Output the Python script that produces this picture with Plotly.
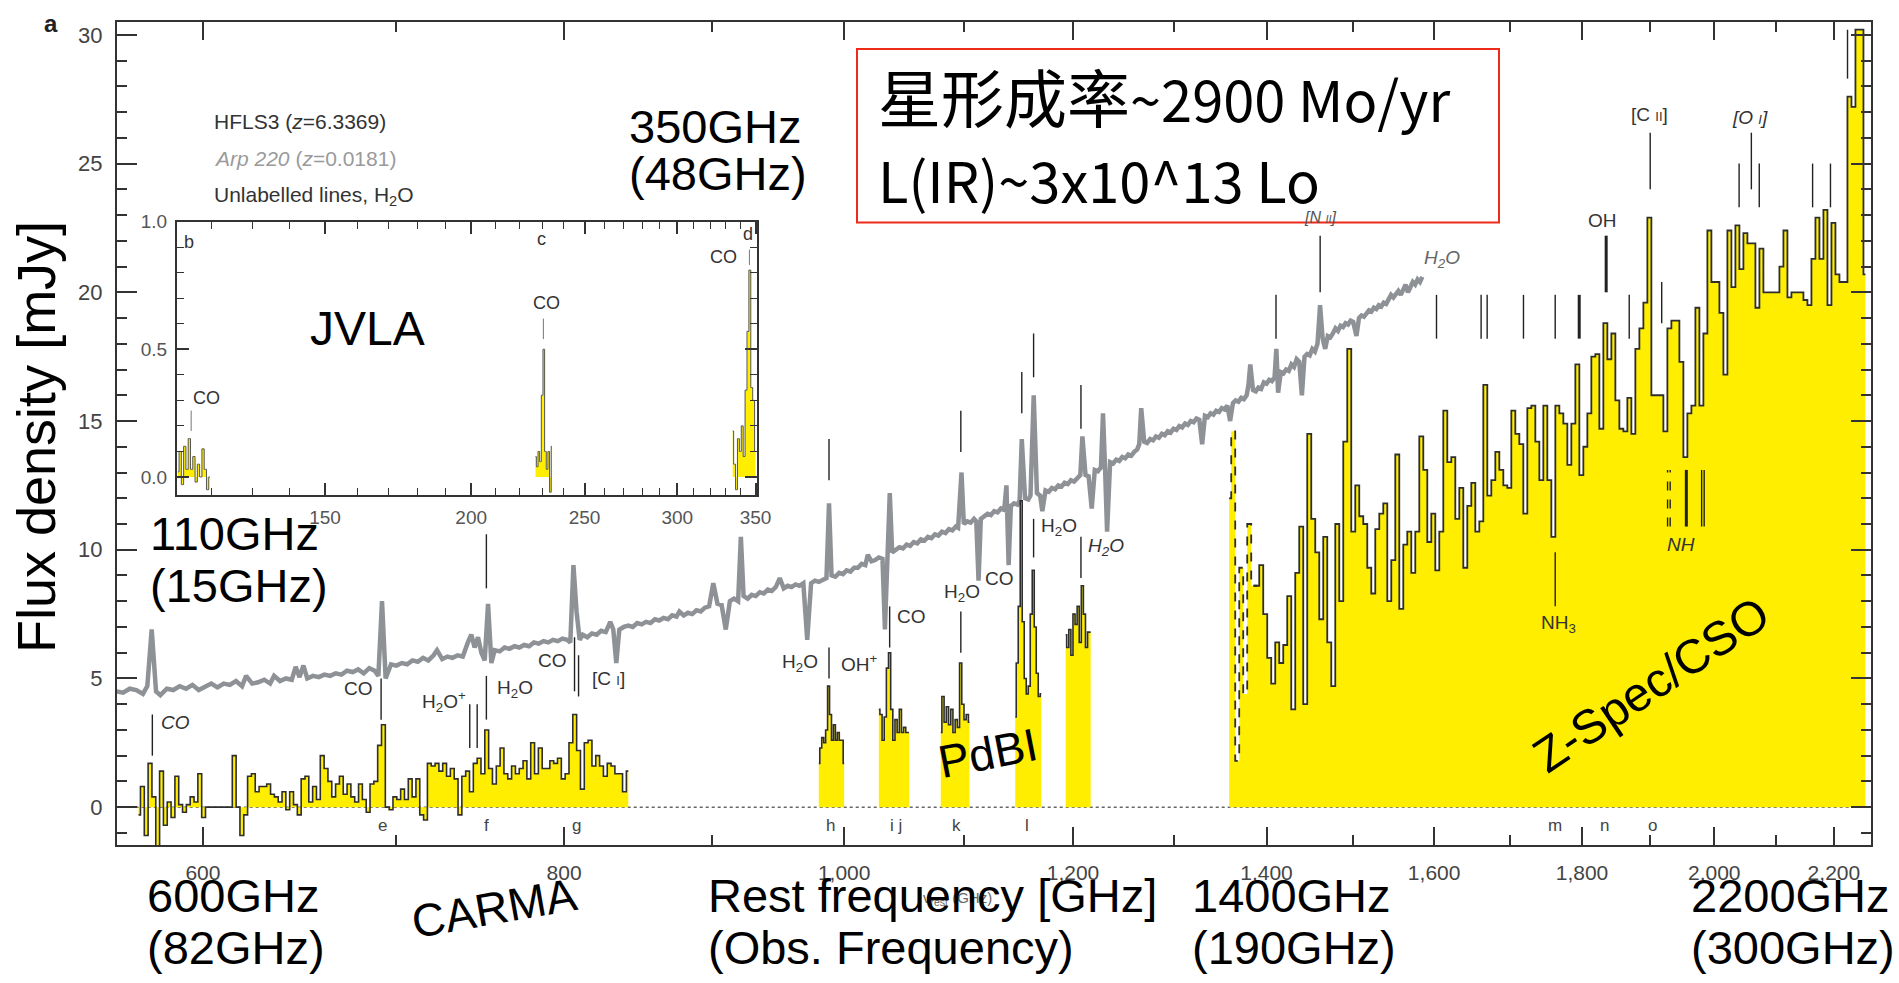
import numpy as np
import plotly.graph_objects as go

# ------------------------------------------------------------------
# HFLS3 spectrum pieces (rest frequency in GHz, flux density in mJy)
# ------------------------------------------------------------------
CARMA_BAND = (570.0, 842.0)
carma_flux = [
    -0.3, 0.8, -1.1, 1.7, 0.4, -1.5, 1.4, -0.7, 0.2, -0.4,
    1.2, 0.1, -0.2, 0.1, 0.4, 0.2, 1.3, -0.4, 0.0, 0.0,
    0.0, 0.0, 0.0, 0.0, 0.0, 2.0, 0.0, -1.1, -0.3, 1.2,
    1.3, 0.6, 0.8, 0.8, 0.9, 0.5, 0.4, 0.2, 0.6, -0.1,
    0.6, 0.1, -0.3, 1.1, 1.2, 0.2, 0.8, 0.3, 2.0, 1.5,
    1.0, 0.4, 0.9, 1.2, 0.5, 0.9, 0.4, 0.2, 0.9, 0.3,
    -0.2, 0.9, 1.0, 2.4, 3.2, 0.0, -0.1, 0.4, 0.3, 0.7,
    0.3, 1.1, 0.4, 1.1, -0.3, -0.5, 1.7, 1.6, 1.7, 1.4,
    1.7, 1.2, 1.5, 1.1, -0.3, 1.2, 1.4, 0.6, 1.7, 1.9,
    1.3, 3.0, 1.5, 0.9, 1.6, 2.3, 1.3, 1.1, 1.6, 1.3,
    1.5, 1.8, 1.1, 2.5, 1.3, 2.3, 1.5, 1.5, 1.8, 1.7,
    1.9, 1.1, 1.3, 2.5, 3.6, 2.2, 0.7, 2.5, 2.6, 1.6,
    2.0, 1.6, 1.2, 1.7, 1.6, 1.3, 1.3, 0.6, 1.4,
]

PDBI_BANDS = [(980.0, 1000.0), (1028.0, 1053.0), (1080.0, 1105.0),
              (1146.0, 1170.0), (1193.0, 1217.0)]
pdbi_flux = [
    [1.7, 2.3, 2.7, 2.5, 3.0, 4.7, 3.6, 2.6, 3.2, 2.6, 2.9, 2.6, 2.6, 1.7],
    [3.8, 3.6, 2.6, 3.5, 5.4, 6.0, 3.8, 2.6, 3.4, 2.9, 3.8, 2.9, 3.1, 2.9, 2.9],
    [2.9, 4.3, 3.3, 3.9, 3.2, 3.8, 2.9, 3.4, 3.1, 5.6, 4.0, 3.4, 3.6, 3.3],
    [3.5, 5.6, 7.8, 11.9, 7.2, 5.0, 4.4, 4.7, 7.5, 9.2, 7.0, 5.2, 4.3, 4.4],
    [6.7, 6.2, 6.9, 5.9, 7.5, 7.1, 7.8, 6.4, 8.6, 7.5, 6.2, 6.8, 6.8],
]

ZSPEC_BAND = (1359.0, 2256.0)
ZSPEC_EDGE_CHANNELS = 8          # low-frequency edge channels (drawn dashed)
zspec_flux = [
    12.0, 14.6, 1.8, 9.3, 4.4, 11.0, 8.6, 8.6, 9.4, 7.5,
    5.8, 4.8, 6.4, 5.6, 6.3, 8.2, 3.8, 9.1, 10.9, 4.0,
    14.5, 11.2, 9.9, 7.3, 10.5, 6.4, 4.7, 11.0, 8.0, 14.2,
    17.8, 10.7, 12.5, 11.3, 11.0, 9.3,
    8.3, 10.8, 11.4, 11.8, 8.0, 9.6, 13.7, 7.7, 10.2, 10.7,
    9.1, 10.7, 14.4, 13.1, 10.3, 11.4, 9.2, 10.7, 15.4, 13.4,
    13.6, 11.2, 12.4, 9.3, 11.7, 12.6, 10.7, 11.1, 16.4, 12.1,
    12.7, 13.8, 13.1, 12.5, 12.4, 15.4, 14.5, 14.1, 11.4, 15.5,
    15.6, 14.2, 12.7, 15.6, 12.7, 10.5, 15.6, 15.3, 14.9, 13.3,
    14.9, 17.2, 12.9, 14.0, 15.3, 17.5, 17.6, 14.7, 18.8, 17.4,
    18.4, 15.8, 14.7, 14.6, 15.9, 14.5, 17.8, 18.6, 19.6,
    22.9,
    16.0, 16.0, 16.0, 14.6, 18.6, 18.9, 18.9, 17.3, 13.6, 15.3,
    15.6, 19.4, 15.6, 18.4, 22.4, 20.4, 20.4, 19.2, 16.8, 22.4,
    20.2, 22.6, 20.9, 22.3, 21.9, 21.9, 19.4, 21.7, 20.0, 20.0,
    20.0, 20.0, 21.0, 22.4, 19.8, 20.0, 20.0, 20.0, 19.7, 19.5,
    21.3, 22.9, 21.3, 23.2, 19.5, 22.7, 20.7, 20.4, 20.4, 27.6,
    27.2, 30.2, 30.2, 20.7,
]

# ------------------------------------------------------------------
# Arp 220 template (scaled, grey)
# ------------------------------------------------------------------
arp_freq = [
    560, 563, 566, 569, 572, 574, 576, 578, 580, 583,
    586, 589, 592, 595, 598, 601, 604, 607, 610, 613,
    616, 619, 621, 624, 627, 630, 633, 635, 638, 641,
    644, 646, 648, 650, 652, 655, 658, 661, 664, 667,
    670, 673, 676, 679, 682, 685, 688, 690, 692, 694,
    697, 700, 703, 706, 709, 712, 715, 718, 721, 723,
    726, 729, 732, 735, 738, 741, 743, 745, 747, 749,
    751, 753, 755, 757, 760, 763, 766, 769, 772, 775,
    778, 781, 784, 787, 790, 793, 796, 799, 802, 804,
    806, 808, 810, 812, 815, 818, 821, 824, 827, 830,
    832, 834, 836, 839, 842, 845, 848, 851, 854, 857,
    860, 863, 866, 869, 872, 875, 877, 880, 883, 886,
    889, 892, 895, 898, 901, 904, 907, 910, 913, 916,
    919, 921, 923, 926, 929, 932, 935, 938, 941, 944,
    947, 950, 953, 956, 959, 962, 965, 968, 971, 974,
    977, 980, 983, 986, 988, 990, 993, 996, 999, 1002,
    1005, 1008, 1011, 1014, 1017, 1019, 1022, 1025, 1028, 1031,
    1033, 1035, 1037, 1039, 1042, 1045, 1048, 1051, 1054, 1057,
    1060, 1063, 1066, 1069, 1072, 1075, 1078, 1081, 1084, 1087,
    1090, 1093, 1095, 1098, 1100, 1103, 1106, 1109, 1111, 1113,
    1115, 1118, 1121, 1124, 1127, 1130, 1133, 1136, 1138, 1140,
    1142, 1145, 1148, 1150, 1152, 1155, 1158, 1160, 1163, 1166,
    1169, 1171, 1174, 1177, 1180, 1183, 1186, 1189, 1192, 1195,
    1198, 1201, 1204, 1207, 1209, 1212, 1215, 1218, 1221, 1224,
    1227, 1229, 1231, 1233, 1236, 1239, 1242, 1245, 1248, 1251,
    1254, 1257, 1260, 1263, 1265, 1267, 1270, 1273, 1276, 1279,
    1282, 1285, 1288, 1291, 1294, 1297, 1300, 1303, 1306, 1309,
    1312, 1315, 1318, 1321, 1324, 1327, 1330, 1333, 1336, 1339,
    1342, 1345, 1348, 1351, 1354, 1357, 1360, 1363, 1366, 1369,
    1372, 1375, 1378, 1380, 1382, 1385, 1388, 1391, 1394, 1397,
    1400, 1403, 1406, 1409, 1411, 1413, 1416, 1419, 1422, 1425,
    1428, 1431, 1434, 1437, 1440, 1443, 1446, 1449, 1452, 1455,
    1458, 1461, 1464, 1467, 1470, 1473, 1476, 1479, 1482, 1485,
    1488, 1491, 1494, 1497, 1500, 1504, 1507, 1510, 1513, 1516,
    1519, 1522, 1525, 1528, 1531, 1534, 1537, 1540, 1543, 1546,
    1549, 1552, 1555, 1558, 1561, 1564, 1567, 1570, 1573, 1576,
    1579, 1582, 1585,
]
arp_flux = [
    4.50, 4.45, 4.60, 4.55, 4.40, 4.70, 6.90, 4.50, 4.35, 4.60,
    4.55, 4.70, 4.60, 4.75, 4.55, 4.70, 4.80, 4.65, 4.80, 4.75,
    4.90, 4.70, 5.10, 4.80, 4.85, 4.95, 4.80, 5.10, 4.90, 5.00,
    4.95, 5.45, 5.05, 5.50, 5.00, 5.10, 5.05, 5.15, 5.10, 5.20,
    5.15, 5.30, 5.25, 5.35, 5.20, 5.40, 5.30, 5.10, 8.00, 5.00,
    5.55, 5.50, 5.60, 5.55, 5.70, 5.65, 5.80, 5.70, 5.90, 6.10,
    5.75, 5.85, 5.80, 5.90, 5.85, 6.40, 6.70, 6.20, 6.60, 6.00,
    5.70, 7.90, 5.60, 6.10, 6.05, 6.20, 6.15, 6.25, 6.20, 6.30,
    6.25, 6.40, 6.35, 6.45, 6.40, 6.50, 6.45, 6.55, 6.50, 6.40,
    9.40, 7.60, 6.50, 6.70, 6.60, 6.75, 6.70, 6.85, 6.80, 7.20,
    6.90, 5.60, 6.90, 7.00, 7.05, 7.00, 7.15, 7.10, 7.20, 7.15,
    7.30, 7.25, 7.35, 7.30, 7.45, 7.40, 7.60, 7.45, 7.55, 7.50,
    7.65, 7.60, 7.75, 7.80, 8.70, 7.90, 7.85, 6.90, 8.00, 8.10,
    8.00, 10.50, 8.20, 8.10, 8.25, 8.20, 8.35, 8.30, 8.45, 8.40,
    8.55, 8.90, 8.50, 8.60, 8.55, 8.65, 8.60, 8.70, 6.50, 8.70,
    8.80, 8.75, 8.85, 8.90, 11.80, 9.00, 8.95, 9.10, 9.05, 9.20,
    9.15, 9.30, 9.30, 9.45, 9.40, 9.80, 9.55, 9.60, 9.70, 9.65,
    6.90, 9.80, 12.20, 9.90, 10.00, 10.10, 10.05, 10.20, 10.15, 10.30,
    10.25, 10.40, 10.35, 10.50, 10.45, 10.60, 10.55, 10.70, 10.65, 10.80,
    10.75, 10.90, 10.85, 13.00, 11.00, 11.10, 11.05, 11.20, 11.10, 8.80,
    11.20, 11.30, 11.40, 11.35, 11.50, 11.45, 11.60, 11.55, 12.50, 9.40,
    11.70, 11.80, 11.75, 11.90, 14.30, 12.00, 11.95, 12.10, 16.00, 12.20,
    12.10, 11.50, 12.30, 12.25, 12.40, 12.35, 12.50, 12.45, 12.60, 12.55,
    12.70, 12.65, 12.80, 12.90, 14.40, 12.90, 12.85, 11.60, 13.10, 13.05,
    13.20, 15.30, 13.20, 10.70, 13.40, 13.35, 13.50, 13.45, 13.60, 13.55,
    13.70, 13.65, 13.80, 13.90, 14.10, 15.50, 14.20, 14.15, 14.30, 14.25,
    14.40, 14.35, 14.50, 14.45, 14.60, 14.55, 14.70, 14.65, 14.80, 14.75,
    14.90, 14.85, 15.00, 14.95, 15.10, 15.05, 14.10, 15.20, 15.15, 15.30,
    15.25, 15.40, 15.35, 15.50, 15.45, 15.60, 15.00, 15.70, 15.80, 15.75,
    15.90, 15.85, 16.00, 16.40, 17.20, 16.20, 16.15, 16.30, 16.25, 16.50,
    16.45, 16.60, 16.55, 16.70, 17.80, 16.10, 16.90, 16.85, 17.00, 16.95,
    17.20, 17.10, 17.40, 17.30, 16.00, 17.50, 17.60, 17.55, 17.80, 17.70,
    18.00, 19.50, 18.20, 17.80, 18.30, 18.25, 18.40, 18.60, 18.50, 18.70,
    18.65, 18.80, 18.75, 18.90, 18.85, 18.30, 19.00, 19.10, 19.05, 19.20,
    19.30, 19.25, 19.40, 19.35, 19.50, 19.45, 19.60, 19.55, 19.70, 19.90,
    19.80, 19.95, 20.05, 19.90, 20.10, 20.30, 20.00, 20.25, 20.40, 20.30,
    20.50, 20.40, 20.60,
]

# ------------------------------------------------------------------
# JVLA low-J CO (inset)
# ------------------------------------------------------------------
JVLA_BANDS = [(112.3, 119.6), (227.0, 234.5), (334.6, 350.0)]
jvla_flux = [
    [0.02, 0.10, -0.03, 0.12, 0.03, 0.15, 0.03, 0.08, -0.02, 0.05, 0.00, 0.11, 0.03, -0.05, 0.00],
    [0.08, 0.04, 0.10, 0.06, 0.32, 0.50, 0.10, 0.03, 0.10, -0.06, 0.12],
    [0.18, 0.05, -0.05, 0.15, 0.10, 0.20, 0.08, 0.34, 0.57, 0.81, 0.35, 0.30, 0.10],
]
jvla_marker_freq = [115.27, 230.54, 345.80]
jvla_marker_lo = [0.18, 0.54, 0.83]
jvla_marker_hi = [0.26, 0.62, 0.89]

# ------------------------------------------------------------------
# Line identifications (frequency, bottom, top of the tick)
# ------------------------------------------------------------------
line_freq = [576.3, 691.5, 742.1, 746.5, 752.0, 752.0, 806.7, 809.3,
             988.0, 988.0, 1036.9, 1097.4, 1097.4, 1152.0, 1162.9, 1162.9,
             1207.6, 1207.6, 1410.6, 1461.1, 1603, 1661, 1669, 1718, 1762,
             1869, 1918, 1900.5, 2040, 2060, 2073, 2163, 2194, 2224,
             1762, 1980, 1984]
line_lo = [2.0, 3.4, 2.3, 2.3, 3.4, 8.5, 4.5, 4.3,
           5.0, 12.7, 6.2, 6.0, 13.8, 15.3, 9.7, 16.7,
           8.9, 14.7, 18.2, 20.0, 18.2, 18.2, 18.2, 18.2, 18.2,
           18.2, 18.8, 24.0, 23.3, 24.0, 23.3, 23.3, 23.3, 28.3,
           7.8, 10.9, 10.9]
line_hi = [3.6, 5.0, 4.0, 4.0, 5.1, 10.6, 6.6, 5.9,
           6.2, 14.3, 7.8, 7.6, 15.4, 16.9, 11.2, 18.4,
           10.5, 16.4, 19.9, 22.2, 19.9, 19.9, 19.9, 19.9, 19.9,
           19.9, 20.4, 26.2, 25.0, 26.2, 25.0, 25.0, 25.0, 30.2,
           9.9, 13.1, 13.1]
bold_line_freq = [1796, 1835, 1956]
bold_line_lo = [18.2, 20.0, 10.9]
bold_line_hi = [19.9, 22.2, 13.1]
dashed_line_freq = [1927, 1931]
dashed_line_lo = [10.9, 10.9]
dashed_line_hi = [13.1, 13.1]

# line labels: text, frequency, flux, anchor
line_labels = [
    ("<i>CO</i>", 579.5, 3.3, "left"),
    ("CO", 688, 4.6, "right"),
    ("H<sub>2</sub>O<sup>+</sup>", 741, 4.1, "right"),
    ("H<sub>2</sub>O", 757, 4.6, "left"),
    ("CO", 803, 5.7, "right"),
    ("[C <span style='font-size:13px'>I</span>]", 817, 5.0, "left"),
    ("H<sub>2</sub>O", 981, 5.6, "right"),
    ("OH<sup>+</sup>", 996, 5.6, "left"),
    ("CO", 1041, 7.4, "left"),
    ("H<sub>2</sub>O", 1098, 8.3, "center"),
    ("CO", 1132, 8.9, "center"),
    ("H<sub>2</sub>O", 1168, 10.9, "left"),
    ("<i>H<sub>2</sub>O</i>", 1212, 10.1, "left"),
    ("OH", 1830, 22.8, "center"),
    ("[C <span style='font-size:13px'>II</span>]", 1899, 26.9, "center"),
    ("<i>[O <span style='font-size:13px'>I</span>]</i>", 2058, 26.8, "center"),
    ("NH<sub>3</sub>", 1767, 7.1, "center"),
    ("<i>NH</i>", 1948, 10.2, "center"),
]
# panel letters along the bottom of the spectrum
panel_letters = ["e", "f", "g", "h", "i j", "k", "l", "m", "n", "o"]
panel_letter_freq = [692, 752, 808, 989, 1042, 1094, 1157, 1762, 1832, 1904]

# axis ticks
x_tick_vals = [600, 800, 1000, 1200, 1400, 1600, 1800, 2000, 2200]
x_tick_text = ["600", "800", "1,000", "1,200", "1,400", "1,600", "1,800", "2,000", "2,200"]
x_minor_vals = [700, 900, 1100, 1300, 1500, 1700, 1900, 2100]
inset_tick_vals = [150, 200, 250, 300, 350]
inset_minor_vals = [120, 130, 140, 160, 170, 180, 190, 210, 220, 230, 240,
                    260, 270, 280, 290, 310, 320, 330, 340]

# ------------------------------------------------------------------
YELLOW = "#FFEE00"
OUTLINE = "#2e2e2e"
GREY = "#8e9196"
FRAME = "#333333"
SANS = "Liberation Sans, Arial, Helvetica, sans-serif"
CJK = "Noto Sans CJK SC, Noto Sans, sans-serif"

W, H = 1899, 983
PL, PR, PT, PB = 117, 1871, 20, 845     # plotting area in page pixels


def paper(px, py):
    return (px - PL) / (PR - PL), (PB - py) / (PB - PT)


def segments(freqs, lo, hi):
    xs, ys = [], []
    for f, a, b in zip(freqs, lo, hi):
        xs += [f, f, None]
        ys += [a, b, None]
    return xs, ys


fig = go.Figure()

# zero level
fig.add_trace(go.Scatter(x=[550, 2300], y=[0, 0], mode="lines",
                         line=dict(color="#666", width=1.5, dash="dot"),
                         hoverinfo="skip"))

# Arp 220
fig.add_trace(go.Scatter(x=arp_freq, y=arp_flux, mode="lines",
                         line=dict(color=GREY, width=4.5)))

# CARMA
carma_freq = np.geomspace(CARMA_BAND[0], CARMA_BAND[1], len(carma_flux))
fig.add_trace(go.Scatter(x=carma_freq, y=carma_flux, mode="lines", fill="tozeroy",
                         fillcolor=YELLOW, line=dict(color=OUTLINE, width=1.6, shape="hvh")))

# PdBI
for (lo, hi), flux in zip(PDBI_BANDS, pdbi_flux):
    fr = np.geomspace(lo, hi, len(flux))
    fig.add_trace(go.Scatter(x=fr, y=flux, mode="lines", fill="tozeroy",
                             fillcolor=YELLOW, line=dict(color=OUTLINE, width=1.6, shape="hvh")))

# Z-Spec
zs_freq = np.geomspace(ZSPEC_BAND[0], ZSPEC_BAND[1], len(zspec_flux))
fig.add_trace(go.Scatter(x=zs_freq, y=zspec_flux, mode="lines", fill="tozeroy",
                         fillcolor=YELLOW, line=dict(width=0, shape="hvh")))
fig.add_trace(go.Scatter(x=zs_freq[ZSPEC_EDGE_CHANNELS - 2:], y=zspec_flux[ZSPEC_EDGE_CHANNELS - 2:],
                         mode="lines", line=dict(color=OUTLINE, width=1.8, shape="hvh")))
fig.add_trace(go.Scatter(x=zs_freq[:ZSPEC_EDGE_CHANNELS], y=zspec_flux[:ZSPEC_EDGE_CHANNELS],
                         mode="lines", line=dict(color=OUTLINE, width=1.8, shape="hvh", dash="dash")))

# line identification ticks
sx, sy = segments(line_freq, line_lo, line_hi)
fig.add_trace(go.Scatter(x=sx, y=sy, mode="lines", line=dict(color="#222", width=1.4)))
sx, sy = segments(bold_line_freq, bold_line_lo, bold_line_hi)
fig.add_trace(go.Scatter(x=sx, y=sy, mode="lines", line=dict(color="#222", width=3)))
sx, sy = segments(dashed_line_freq, dashed_line_lo, dashed_line_hi)
fig.add_trace(go.Scatter(x=sx, y=sy, mode="lines", line=dict(color="#222", width=1.4, dash="dash")))

# JVLA inset
for (lo, hi), flux in zip(JVLA_BANDS, jvla_flux):
    fr = np.geomspace(lo, hi, len(flux))
    fig.add_trace(go.Scatter(x=fr, y=flux, mode="lines", fill="tozeroy", fillcolor=YELLOW,
                             line=dict(color="#555", width=1, shape="hvh"),
                             xaxis="x2", yaxis="y2"))
sx, sy = segments(jvla_marker_freq, jvla_marker_lo, jvla_marker_hi)
fig.add_trace(go.Scatter(x=sx, y=sy, mode="lines", line=dict(color="#777", width=1),
                         xaxis="x2", yaxis="y2"))

# ------------------------------------------------------------------
axis_common = dict(showgrid=False, zeroline=False, showline=True, linecolor=FRAME,
                   linewidth=2, mirror="ticks", ticks="inside", tickcolor=FRAME,
                   tickwidth=1.5)

ix0, iy0 = paper(177, 494)
ix1, iy1 = paper(757, 220)

fig.update_layout(
    width=W, height=H,
    margin=dict(l=PL, r=W - PR, t=PT, b=H - PB),
    paper_bgcolor="white", plot_bgcolor="rgba(0,0,0,0)",
    showlegend=False,
    xaxis=dict(type="log", range=[np.log10(560.3), np.log10(2266)],
               tickvals=x_tick_vals, ticktext=x_tick_text, ticklen=18,
               tickfont=dict(family=SANS, size=21, color="#444"),
               ticklabelstandoff=8,
               minor=dict(tickvals=x_minor_vals, ticklen=10, ticks="inside",
                          tickcolor=FRAME, tickwidth=1.5),
               **axis_common),
    yaxis=dict(range=[-1.47, 30.5], tickvals=[0, 5, 10, 15, 20, 25, 30], ticklen=20,
               tickfont=dict(family=SANS, size=22, color="#444"),
               ticklabelstandoff=8,
               minor=dict(dtick=1, tick0=0, ticklen=10, ticks="inside",
                          tickcolor=FRAME, tickwidth=1.5),
               **axis_common),
    xaxis2=dict(type="log", domain=[ix0, ix1], anchor="y2",
                range=[np.log10(112.1), np.log10(351)],
                tickvals=inset_tick_vals, ticklen=12,
                tickfont=dict(family=SANS, size=19, color="#555"),
                ticklabelstandoff=4,
                minor=dict(tickvals=inset_minor_vals, ticklen=7, ticks="inside",
                           tickcolor=FRAME, tickwidth=1.2),
                **axis_common),
    yaxis2=dict(domain=[iy0, iy1], anchor="x2", range=[-0.07, 1.0],
                tickvals=[0, 0.5, 1.0], ticktext=["0.0", "0.5", "1.0"], ticklen=12,
                tickfont=dict(family=SANS, size=19, color="#555"),
                ticklabelstandoff=4,
                minor=dict(dtick=0.1, tick0=0, ticklen=7, ticks="inside",
                           tickcolor=FRAME, tickwidth=1.2),
                **axis_common),
)

ann = []


def note(text, px, py, size, color="black", family=SANS, xanchor="center", angle=0):
    x, y = paper(px, py)
    ann.append(dict(x=x, y=y, xref="paper", yref="paper", text=text, showarrow=False,
                    xanchor=xanchor, yanchor="middle", textangle=angle,
                    font=dict(family=family, size=size, color=color)))


# line labels on the spectrum
for text, f, yv, anchor in line_labels:
    ann.append(dict(x=np.log10(f), y=yv, xref="x", yref="y", text=text, showarrow=False,
                    xanchor=anchor, yanchor="middle",
                    font=dict(family=SANS, size=19, color="#333")))
ann.append(dict(x=np.log10(1461), y=22.9, xref="x", yref="y",
                text="<i>[N <span style='font-size:11px'>II</span>]</i>",
                showarrow=False, xanchor="center", yanchor="middle",
                font=dict(family=SANS, size=16, color="#555")))
ann.append(dict(x=np.log10(1584), y=21.3, xref="x", yref="y", text="<i>H<sub>2</sub>O</i>",
                showarrow=False, xanchor="left", yanchor="middle",
                font=dict(family=SANS, size=19, color="#666")))
for letter, f in zip(panel_letters, panel_letter_freq):
    ann.append(dict(x=np.log10(f), y=-0.7, xref="x", yref="y", text=letter, showarrow=False,
                    xanchor="center", yanchor="middle",
                    font=dict(family=SANS, size=17, color="#444")))

# inset labels
inset_text = [("b", 113.3, 0.92, "left"), ("c", 229.5, 0.93, "center"),
              ("d", 344.8, 0.95, "center"), ("CO", 118.9, 0.31, "center"),
              ("CO", 232.0, 0.68, "center"), ("CO", 328.8, 0.86, "center")]
for text, f, yv, anchor in inset_text:
    ann.append(dict(x=np.log10(f), y=yv, xref="x2", yref="y2", text=text, showarrow=False,
                    xanchor=anchor, yanchor="middle",
                    font=dict(family=SANS, size=18, color="#333")))

# legend block
note("HFLS3 (<i>z</i>=6.3369)", 212, 120, 21, "#333", xanchor="left")
note("<i>Arp 220</i> (<i>z</i>=0.0181)", 212, 157, 21, "#9a9a9a", xanchor="left")
note("Unlabelled lines, H<sub>2</sub>O", 212, 194, 21, "#333", xanchor="left")

# original small axis title (partly covered)
note("ν<sub>rest</sub> (GHz)", 957, 899, 15, "#666")

# large overlay notes
big_notes = [
    ("350GHz", 627, 125), ("(48GHz)", 627, 172),
    ("110GHz", 148, 533), ("(15GHz)", 148, 585),
    ("600GHz", 145, 896), ("(82GHz)", 145, 948),
    ("Rest frequency [GHz]", 706, 896), ("(Obs. Frequency)", 706, 948),
    ("1400GHz", 1190, 896), ("(190GHz)", 1190, 948),
    ("2200GHz", 1689, 896), ("(300GHz)", 1689, 948),
]
for text, px, py in big_notes:
    note(text, px, py, 47, xanchor="left")

note("CARMA", 494, 908, 46, angle=-10)
note("PdBI", 988, 753, 46, angle=-11)
note("Z-Spec/CSO", 1651, 684, 48, angle=-34)
note("JVLA", 367, 327, 48)

# star formation box
note("<span style='font-size:63px'>星形成率</span>~2900 Mo/yr", 876, 93, 56, family=CJK, xanchor="left")
note("L(IR)~3x10^13 Lo", 876, 177, 56, family=CJK, xanchor="left")

# y title and panel tag
note("Flux density [mJy]", 36, 436, 54, angle=-90)
note("<b>a</b>", 51, 22, 24, "#222")

fig.update_layout(annotations=ann)

bx0, by0 = paper(857, 221)
bx1, by1 = paper(1499, 47)
fig.add_shape(type="rect", xref="paper", yref="paper", x0=bx0, y0=by0, x1=bx1, y1=by1,
              line=dict(color="#ee2a1b", width=2))

fig.write_html("out.html")
